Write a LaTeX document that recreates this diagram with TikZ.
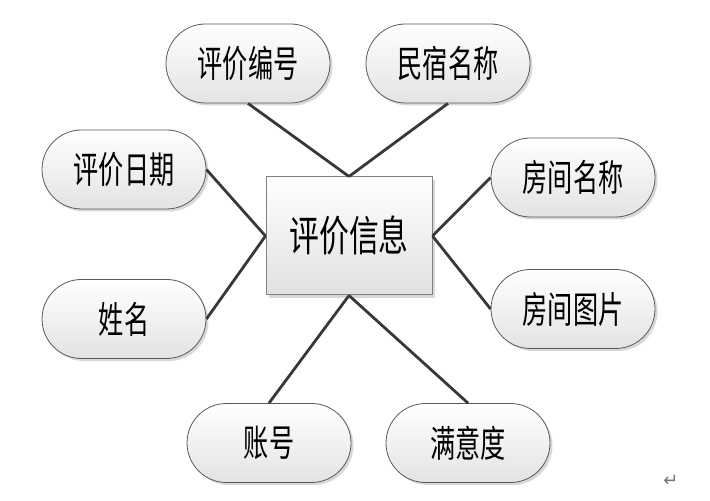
\documentclass[tikz,border=0pt]{standalone}
\usepackage{fontspec}
\newfontfamily\cjk{Noto Sans CJK SC}
\newfontfamily\sym{DejaVu Sans}
\usepackage{tikz}
\usetikzlibrary{positioning,shapes.misc,shadows}
\newcommand{\narrow}[2][0.68]{\scalebox{#1}[1]{#2}}

\begin{document}
\begin{tikzpicture}[x=1pt, y=1pt, attr/.style = {rounded rectangle, draw=black!65, line width=0.8pt, top color=white, bottom color=black!11, minimum width=164pt, minimum height=79pt, inner sep=0pt, drop shadow={shadow xshift=2.5pt, shadow yshift=-2.5pt, fill=black!30}, font=\cjk\fontsize{37}{37}\selectfont}, entity/.style = {rectangle, draw=black!50, line width=1pt, top color=white, bottom color=black!12, minimum width=166pt, minimum height=118pt, inner sep=0pt, drop shadow={shadow xshift=3pt, shadow yshift=-3pt, fill=black!30}, font=\cjk\fontsize{42}{42}\selectfont}, every edge/.append style={line width=2.8pt, draw=black!78}]
\useasboundingbox (0,0) rectangle (710,501);

\node[entity] (c) at (349,265) {\narrow[0.71]{评价信息}};

\node[attr] (1) at (248,437.5) {\narrow{评价编号}};
\node[attr] (2) at (448,437.5) {\narrow{民宿名称}};
\node[attr] (3) at (124,331.5) {\narrow{评价日期}};
\node[attr] (4) at (573,323.5) {\narrow{房间名称}};
\node[attr] (5) at (124,182) {\narrow{姓名}};
\node[attr] (6) at (573,192) {\narrow{房间图片}};
\node[attr] (7) at (269,58) {\narrow{账号}};
\node[attr] (8) at (468,58) {\narrow{满意度}};

%\node (ret) at (670,19) {};
\node[text=black!55, font=\sym\fontsize{18}{18}\selectfont] (ret) at (671,20) {↵};

\path
    (1.south) edge (c.north)
    (2.south) edge (c.north)
    (3.east) edge (c.west)
    (5.east) edge (c.west)
    (4.west) edge (c.east)
    (6.west) edge (c.east)
    (7.north) edge (c.south)
    (8.north) edge (c.south);
\end{tikzpicture}
\end{document}
